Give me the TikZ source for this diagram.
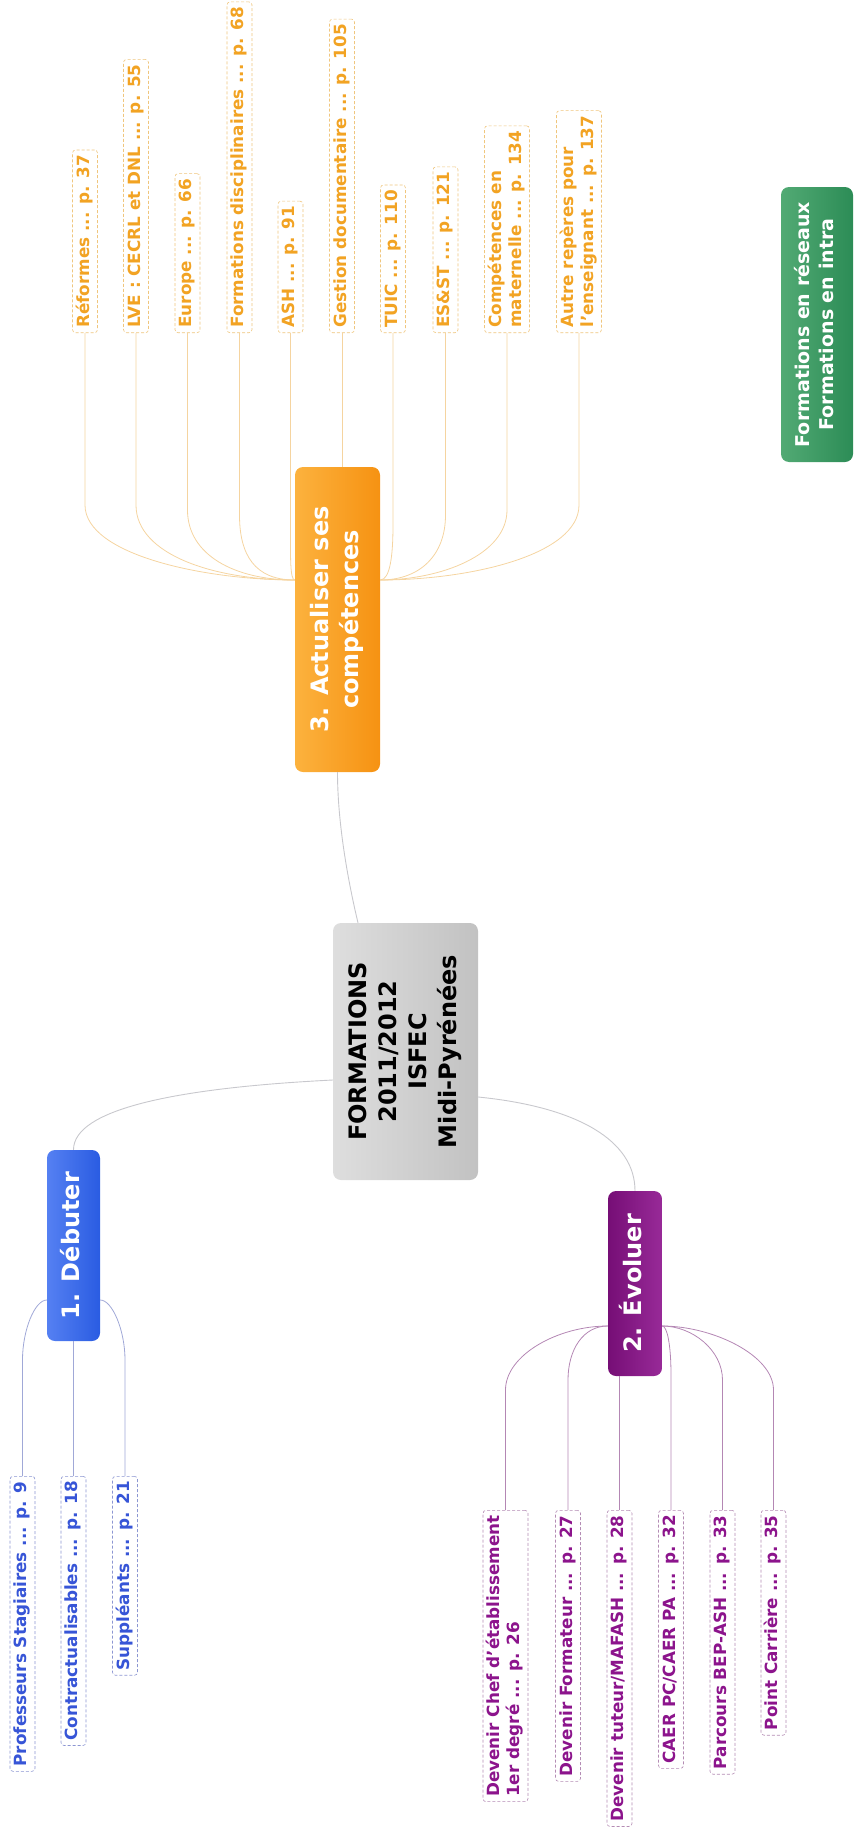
\documentclass[tikz,border=0pt]{standalone}
\usepackage{fontspec}
\setmainfont{DejaVu Sans}
\usepackage{graphicx}
\usepackage{xcolor}
\usepackage{tikz}
\tikzset{>=latex}

\definecolor{ortext}{RGB}{242,163,35}
\definecolor{orborder}{RGB}{240,198,125}
\definecolor{orwire}{RGB}{245,212,160}
\definecolor{orleft}{RGB}{252,178,62}
\definecolor{orright}{RGB}{246,146,18}
\definecolor{bltext}{RGB}{55,85,215}
\definecolor{blborder}{RGB}{140,150,210}
\definecolor{blwire}{RGB}{160,168,215}
\definecolor{blleft}{RGB}{85,128,242}
\definecolor{blright}{RGB}{42,92,226}
\definecolor{putext}{RGB}{140,20,140}
\definecolor{puborder}{RGB}{180,140,180}
\definecolor{puwire}{RGB}{180,135,180}
\definecolor{puleft}{RGB}{118,14,118}
\definecolor{puright}{RGB}{152,42,152}
\definecolor{grleft}{RGB}{82,170,116}
\definecolor{grright}{RGB}{44,140,86}
\definecolor{cenwire}{RGB}{200,200,205}

\newcommand{\upleft}[1]{\rotatebox{90}{\begin{tabular}{@{}l@{}}#1\end{tabular}}}
\newcommand{\upmid}[1]{\rotatebox{90}{\begin{tabular}{@{}c@{}}#1\end{tabular}}}

\begin{document}
\begin{tikzpicture}[x=10pt,y=10pt,
  topic/.style={rounded corners=8pt, inner sep=0pt, text=white, font=\fontsize{24}{30}\selectfont\bfseries},
  leaf/.style={draw, rounded corners=3pt, fill=white, inner xsep=2.5pt, inner ysep=5pt, line width=0.6pt, densely dashed, font=\fontsize{16.8}{20}\selectfont\bfseries},
  orleaf/.style={leaf, draw=orborder, text=ortext, anchor=south},
  blleaf/.style={leaf, draw=blborder, text=bltext, anchor=north},
  puleaf/.style={leaf, draw=puborder, text=putext, anchor=north},
  orlink/.style={orwire, line width=0.8pt},
  bllink/.style={blwire, line width=0.8pt},
  pulink/.style={puwire, line width=0.8pt},
  cenlink/.style={cenwire, line width=0.9pt}]

\useasboundingbox (0,0) rectangle (85.6,-183.3);

% Main topics
\node[topic, text=black, left color=black!13, right color=black!24, minimum width=145pt, minimum height=257pt] (cen) at (40.55,-105.15) {\upmid{FORMATIONS\\2011/2012\\ISFEC\\Midi-Pyrénées}};
\node[topic, left color=orleft, right color=orright, minimum width=85pt, minimum height=305pt] (act) at (33.75,-61.95) {\upmid{3. Actualiser ses\\compétences}};
\node[topic, left color=blleft, right color=blright, minimum width=53pt, minimum height=191pt] (deb) at (7.35,-124.55) {\upmid{1. Débuter}};
\node[topic, left color=puleft, right color=puright, minimum width=54pt, minimum height=185pt] (evo) at (63.5,-128.35) {\upmid{2. Évoluer}};
\node[topic, left color=grleft, right color=grright, font=\fontsize{19}{24}\selectfont\bfseries, minimum width=72pt, minimum height=275pt] (net) at (81.7,-32.45) {\upmid{Formations en réseaux\\Formations en intra}};

% Links from the centre
\draw[cenlink] (act.south) .. controls +(0,-6) and +(-0.6,2.5) .. ([xshift=-47.5pt]cen.north);
\draw[cenlink] ([yshift=-28.5pt]cen.west) .. controls +(-16,-0.8) and +(0,4) .. (deb.north);
\draw[cenlink] ([yshift=-45.5pt]cen.east) .. controls +(10,-1) and +(0,5) .. (evo.north);

% 3. Actualiser ses competences
\node[orleaf] (ref) at (8.5,-33.3) {\upleft{Réformes ... p. 37}};
\node[orleaf] (lve) at (13.6,-33.3) {\upleft{LVE : CECRL et DNL ... p. 55}};
\node[orleaf] (eur) at (18.75,-33.3) {\upleft{Europe ... p. 66}};
\node[orleaf] (fdi) at (23.95,-33.3) {\upleft{Formations disciplinaires ... p. 68}};
\node[orleaf] (ash) at (29.05,-33.3) {\upleft{ASH ... p. 91}};
\node[orleaf] (ges) at (34.2,-33.3) {\upleft{Gestion documentaire ... p. 105}};
\node[orleaf] (tui) at (39.3,-33.3) {\upleft{TUIC ... p. 110}};
\node[orleaf] (ess) at (44.55,-33.3) {\upleft{ES\&ST ... p. 121}};
\node[orleaf] (com) at (50.7,-33.3) {\upleft{Compétences en\\maternelle ... p. 134}};
\node[orleaf] (aut) at (57.9,-33.3) {\upleft{Autre repères pour\\l'enseignant ... p. 137}};

\coordinate (actW) at ([yshift=39.5pt]act.west);
\coordinate (actE) at ([yshift=39.5pt]act.east);

\draw[orlink] (ref.south) -- ++(0,-17.2) .. controls +(0,-5) and +(-9,0) .. (actW);
\draw[orlink] (lve.south) -- ++(0,-17.2) .. controls +(0,-5) and +(-8,0) .. (actW);
\draw[orlink] (eur.south) -- ++(0,-17.7) .. controls +(0,-4.5) and +(-6,0) .. (actW);
\draw[orlink] (fdi.south) -- ++(0,-18.2) .. controls +(0,-4) and +(-4,0) .. (actW);
\draw[orlink] (ash.south) -- ++(0,-19.2) .. controls +(0,-3) and +(-0.5,0) .. (actW);
\draw[orlink] (ges.south) -- (ges.south |- act.north);
\draw[orlink] (tui.south) -- ++(0,-19.2) .. controls +(0,-3) and +(1,0) .. (actE);
\draw[orlink] (ess.south) -- ++(0,-18.2) .. controls +(0,-4) and +(4,0) .. (actE);
\draw[orlink] (com.south) -- ++(0,-17.7) .. controls +(0,-4.5) and +(6,0) .. (actE);
\draw[orlink] (aut.south) -- ++(0,-17.2) .. controls +(0,-5) and +(9,0) .. (actE);

% 1. Debuter
\node[blleaf] (pro) at (2.25,-147.6) {\upleft{Professeurs Stagiaires ... p. 9}};
\node[blleaf] (ctr) at (7.35,-147.6) {\upleft{Contractualisables ... p. 18}};
\node[blleaf] (sup) at (12.5,-147.6) {\upleft{Suppléants ... p. 21}};

\coordinate (debW) at ([yshift=-54.5pt]deb.west);
\coordinate (debE) at ([yshift=-54.5pt]deb.east);

\draw[bllink] (pro.north) -- ++(0,11.6) .. controls +(0,3) and +(-1.2,0) .. (debW);
\draw[bllink] (ctr.north) -- (deb.south);
\draw[bllink] (sup.north) -- ++(0,11.6) .. controls +(0,3) and +(1.2,0) .. (debE);

% 2. Evoluer
\node[puleaf] (che) at (50.55,-151.0) {\upleft{Devenir Chef d'établissement\\1er degré ... p. 26}};
\node[puleaf] (fmt) at (56.8,-151.0) {\upleft{Devenir Formateur ... p. 27}};
\node[puleaf] (tut) at (61.95,-151.0) {\upleft{Devenir tuteur/MAFASH ... p. 28}};
\node[puleaf] (cae) at (67.1,-151.0) {\upleft{CAER PC/CAER PA ... p. 32}};
\node[puleaf] (bep) at (72.25,-151.0) {\upleft{Parcours BEP-ASH ... p. 33}};
\node[puleaf] (car) at (77.35,-151.0) {\upleft{Point Carrière ... p. 35}};

\coordinate (evoW) at ([yshift=-42.5pt]evo.west);
\coordinate (evoE) at ([yshift=-42.5pt]evo.east);

\draw[pulink] (che.north) -- ++(0,12) .. controls +(0,3.5) and +(-5,0) .. (evoW);
\draw[pulink] (fmt.north) -- ++(0,13) .. controls +(0,3) and +(-2.5,0) .. (evoW);
\draw[pulink] (tut.north) -- (tut.north |- evo.south);
\draw[pulink] (cae.north) -- ++(0,13.5) .. controls +(0,3) and +(0.5,0) .. (evoE);
\draw[pulink] (bep.north) -- ++(0,13) .. controls +(0,3) and +(3,0) .. (evoE);
\draw[pulink] (car.north) -- ++(0,12) .. controls +(0,3.5) and +(5,0) .. (evoE);

\end{tikzpicture}
\end{document}
